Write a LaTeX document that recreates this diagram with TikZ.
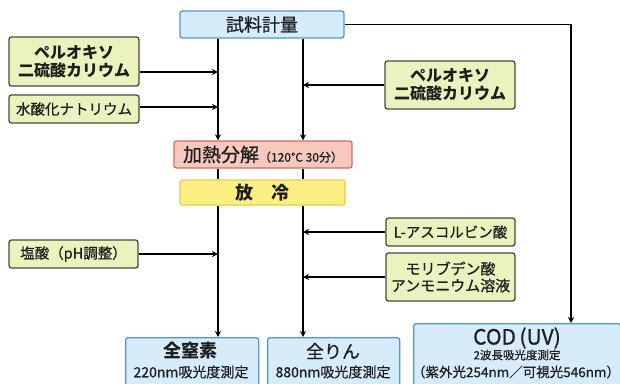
\documentclass[tikz,border=0pt]{standalone}
\usepackage{fontspec}
\setmainfont{Noto Sans CJK JP}
\newfontfamily\medfont{Noto Sans CJK JP}[FakeBold=0.7]
\usetikzlibrary{arrows.meta,calc}
\definecolor{bluefill}{RGB}{214,236,250}
\definecolor{blueline}{RGB}{80,150,210}
\definecolor{greenfill}{RGB}{236,242,190}
\definecolor{greenline}{RGB}{70,75,60}
\definecolor{pinkfill}{RGB}{246,200,190}
\definecolor{pinkline}{RGB}{210,110,100}
\definecolor{yelfill}{RGB}{253,240,130}
\definecolor{yelline}{RGB}{235,200,80}
\definecolor{txt}{RGB}{30,30,30}
\newcommand{\fs}[1]{\fontsize{#1}{#1}\selectfont}
\begin{document}
\begin{tikzpicture}[x=1pt,y=-1pt,
  box/.style={rectangle,rounded corners=2.5pt,line width=1.3pt,inner sep=0pt,align=center,text=txt},
  bluebox/.style={box,fill=bluefill,draw=blueline},
  greenbox/.style={box,fill=greenfill,draw=greenline},
  pinkbox/.style={box,fill=pinkfill,draw=pinkline},
  yelbox/.style={box,fill=yelfill,draw=yelline},
  conn/.style={line width=1.6pt,black},
  arr/.style={conn,-{Stealth[length=6pt,width=6pt]}},
  lbl/.style={inner sep=0pt,text=txt,align=center}]
\useasboundingbox (0,0) rectangle (620,383);
\coordinate (L) at (218,0);
\coordinate (R) at (303,0);
\coordinate (C) at (571,0);
% boxes
\node[bluebox,minimum width=164pt,minimum height=27pt] (samp) at (262,24.5) {\medfont\fs{18}試料計量};
\node[greenbox,minimum width=130pt,minimum height=49pt] (pk1) at (74,61.5) {\fs{16}\bfseries ペルオキソ\\[2pt]\fs{16}\bfseries 二硫酸カリウム};
\node[greenbox,minimum width=130pt,minimum height=28pt] (naoh) at (74,109) {\medfont\fs{14.5}水酸化ナトリウム};
\node[greenbox,minimum width=130pt,minimum height=48pt] (pk2) at (450,85) {\fs{16}\bfseries ペルオキソ\\[2pt]\fs{16}\bfseries 二硫酸カリウム};
\node[pinkbox,minimum width=178pt,minimum height=27pt] (heat) at (263,154.5) {\medfont\fs{19}加熱分解\fs{12}（120℃ 30分）};
\node[yelbox,minimum width=165pt,minimum height=25pt] (cool) at (262.5,192.5) {\fs{18}\bfseries 放\hspace{1em}冷};
\node[greenbox,minimum width=129pt,minimum height=28pt] (hcl) at (73.5,254) {\medfont\fs{14.5}塩酸（pH調整）};
\node[greenbox,minimum width=129pt,minimum height=28pt] (asc) at (450.5,232) {\medfont\fs{14.5}L-アスコルビン酸};
\node[greenbox,minimum width=129pt,minimum height=48pt] (mo) at (450.5,277) {\medfont\fs{15}モリブデン酸\\[2pt]\medfont\fs{15}アンモニウム溶液};
% bottom boxes
\node[bluebox,anchor=north west,minimum width=133pt,minimum height=60pt] (tn) at (125,337) {};
\node[lbl] (tnt) at (190,351) {\fs{18}\bfseries 全窒素};
\node[lbl] (tns) at (191,372) {\medfont\fs{14}220nm吸光度測定};
\node[bluebox,anchor=north west,minimum width=132pt,minimum height=60pt] (tp) at (267,337) {};
\node[lbl] (tpt) at (333,351) {\medfont\fs{18}全りん};
\node[lbl] (tps) at (333,372) {\medfont\fs{14}880nm吸光度測定};
\node[bluebox,anchor=north west,minimum width=207pt,minimum height=75pt] (cod) at (413,323) {};
\node[lbl] (codt) at (517,338) {\medfont\fs{21}COD\,(UV)};
\node[lbl] (cods) at (517,355) {\medfont\fs{11.5}2波長吸光度測定};
\node[lbl] (codn) at (516,372) {\medfont\fs{13.5}（紫外光254nm／可視光546nm）};
% connectors
\draw[arr] (samp.south -| L) -- (heat.north -| L);
\draw[conn] (heat.south -| L) -- (cool.north -| L);
\draw[arr] (cool.south -| L) -- (tn.north -| L);
\draw[arr] (samp.south -| R) -- (heat.north -| R);
\draw[conn] (heat.south -| R) -- (cool.north -| R);
\draw[arr] (cool.south -| R) -- (tp.north -| R);
\draw[arr] (samp.east) -- (samp.east -| C) -- (cod.north -| C);
\draw[arr] ([yshift=-10.5pt]pk1.east) -- ([yshift=-10.5pt]pk1.east -| L);
\draw[arr] ([yshift=2pt]naoh.east) -- ([yshift=2pt]naoh.east -| L);
\draw[arr] (hcl.east) -- (hcl.east -| L);
\draw[arr] (pk2.west) -- (pk2.west -| R);
\draw[arr] (asc.west) -- (asc.west -| R);
\draw[arr] (mo.west) -- (mo.west -| R);
\end{tikzpicture}
\end{document}
